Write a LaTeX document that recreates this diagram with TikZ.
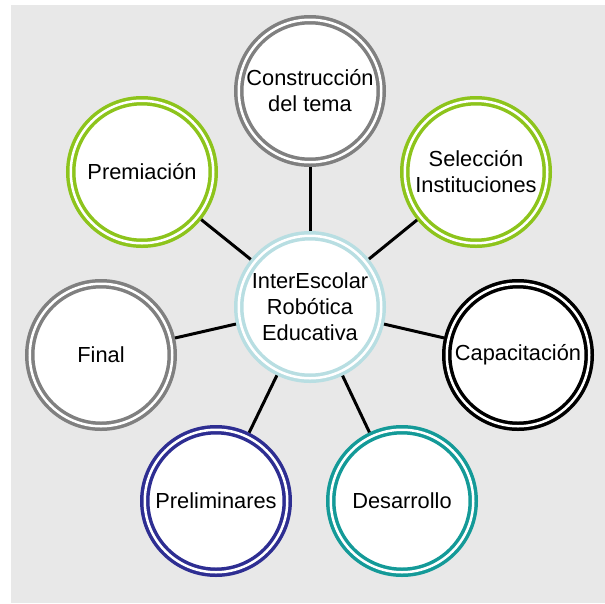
\documentclass[tikz,border=0pt]{standalone}
\usepackage{fontspec}
\setmainfont{Liberation Sans}
\definecolor{bggray}{RGB}{232,232,232}
\definecolor{ringgray}{RGB}{128,128,128}
\definecolor{ringgreen}{RGB}{141,196,28}
\definecolor{ringblue}{RGB}{46,46,146}
\definecolor{ringteal}{RGB}{20,154,152}
\definecolor{ringlight}{RGB}{184,222,226}
\begin{document}
\begin{tikzpicture}[x=1pt,y=-1pt,
  ring/.style={circle,draw=#1,fill=white,double=white,line width=3.5pt,
    double distance=2.5pt,minimum size=142.5pt,inner sep=0pt,outer sep=4.75pt,
    align=center,font=\fontsize{21.8pt}{26pt}\selectfont},
  link/.style={line width=3pt,black}]
\useasboundingbox (0,0) rectangle (605,603);
\fill[bggray] (11,5) rectangle (605,603);
\node[ring=ringlight] (c) at (310,307) {InterEscolar\\Robótica\\Educativa};
\node[ring=ringgray] (t) at (310,91) {Construcción\\del tema};
\node[ring=ringgreen] (pm) at (142,172) {Premiación};
\node[ring=ringgreen] (se) at (476,172) {Selección\\Instituciones};
\node[ring=ringgray] (fi) at (101,355) {Final};
\node[ring=black] (ca) at (518,355) {Capacitación};
\node[ring=ringblue] (pr) at (216,501) {Preliminares};
\node[ring=ringteal] (de) at (402,501) {Desarrollo};
\foreach \n in {t,pm,se,fi,ca,pr,de} \draw[link] (c) -- (\n);
\end{tikzpicture}
\end{document}
